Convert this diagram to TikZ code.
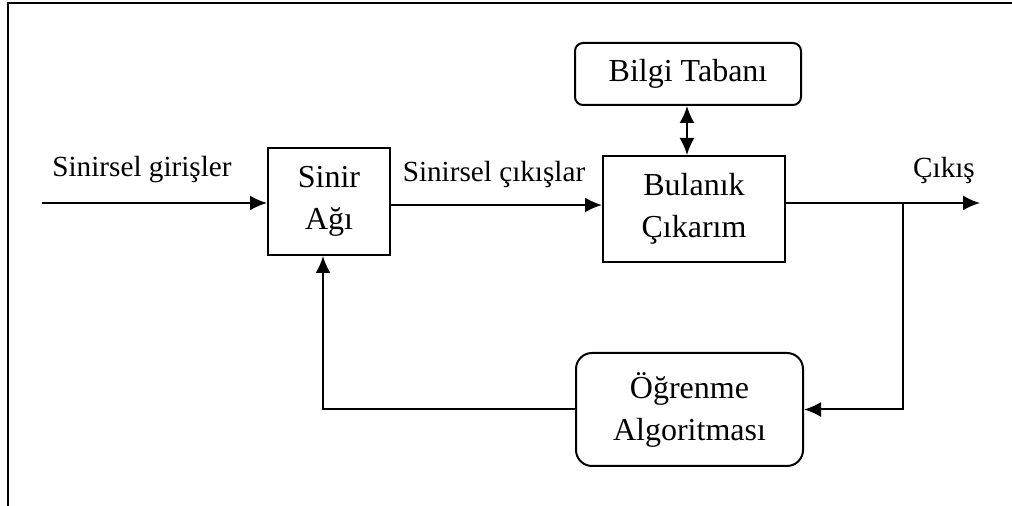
\documentclass[tikz,border=0pt]{standalone}
\usepackage{fontspec}
\setmainfont{Liberation Serif}
\usetikzlibrary{arrows.meta}
\tikzset{
    blok/.style={draw, line width=1pt, align=center, inner sep=0pt, font=\fontsize{16}{21}\selectfont},
    yuvarlak/.style={blok, rounded corners=8pt},
    ok/.style={line width=1pt, -{Latex[length=8.5pt,width=7.5pt]}},
    ciftok/.style={line width=1pt, {Latex[length=8.5pt,width=7.5pt]}-{Latex[length=8.5pt,width=7.5pt]}},
    etiket/.style={anchor=base, inner sep=0pt}
}

\begin{document}
\begin{tikzpicture}[x=0.5pt, y=-0.5pt, font=\fontsize{14.6}{21}\selectfont]
\useasboundingbox (0,0) rectangle (1012,506);
% çerçeve
\draw[line width=1.2pt] (8,506) -- (8,3) -- (1012,3);

% bloklar
\node[blok, minimum width=61pt, minimum height=53.5pt] (sinir) at (329,201.5) {Sinir\\Ağı};
\node[blok, minimum width=91pt, minimum height=53pt] (bulanik) at (694,209) {Bulanık\\Çıkarım};
\node[yuvarlak, rounded corners=4pt, minimum width=113pt, minimum height=31pt] (bilgi) at (688,74) {Bilgi Tabanı};
\node[yuvarlak, minimum width=113.5pt, minimum height=56.5pt] (ogrenme) at (689.5,409.5) {Öğrenme\\Algoritması};

% giriş ve çıkış noktaları
\coordinate (giris) at (42,203);
\coordinate (cikis) at (980,203);
\coordinate (dugum) at (903,203);

% bağlantılar
\draw[ok] (giris) -- (giris -| sinir.west);
\draw[ok] (sinir.east |- 0,205) -- (bulanik.west |- 0,205);
\draw[ok] (cikis -| bulanik.east) -- (cikis);
\draw[ciftok] (bilgi.south -| 687,0) -- (bulanik.north -| 687,0);
\draw[ok] (dugum) |- (ogrenme.east);
\draw[ok] (ogrenme.west) -| (sinir.south -| 323,0);

% etiketler
\node[etiket] (lgiris) at (142,177) {Sinirsel girişler};
\node[etiket] (lcikislar) at (494,182) {Sinirsel çıkışlar};
\node[etiket] (lcikis) at (944,178) {Çıkış};
\end{tikzpicture}
\end{document}
